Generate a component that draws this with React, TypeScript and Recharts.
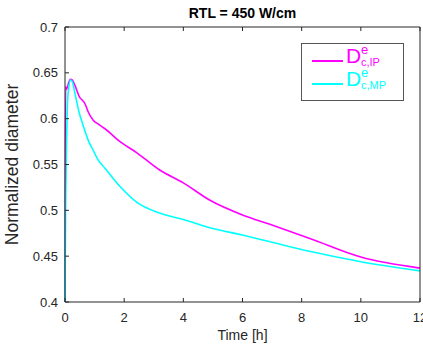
import React from 'react';
import { LineChart, Line, XAxis, YAxis } from 'recharts';

// time axis (hours) and the two normalized diameter curves
const times = [0, 0.02, 0.05, 0.08, 0.12, 0.19, 0.25, 0.34, 0.5, 0.56, 0.68, 0.79, 0.96, 1.13, 1.35, 1.86, 2.42, 3.2, 4, 4.9, 6, 6.9, 8.3, 10, 12];
const dcIP = [0.4, 0.635, 0.632, 0.634, 0.639, 0.643, 0.642, 0.636, 0.623, 0.621, 0.616, 0.607, 0.598, 0.594, 0.589, 0.575, 0.563, 0.544, 0.53, 0.511, 0.495, 0.485, 0.469, 0.449, 0.437];
const dcMP = [0.4, 0.5, 0.57, 0.615, 0.632, 0.642, 0.64, 0.627, 0.604, 0.598, 0.586, 0.576, 0.565, 0.5545, 0.546, 0.526, 0.509, 0.497, 0.49, 0.481, 0.473, 0.466, 0.455, 0.444, 0.434];

const xTicks = [0, 2, 4, 6, 8, 10, 12];
const yTicks = [0.4, 0.45, 0.5, 0.55, 0.6, 0.65, 0.7];

const data = times.map((t, i) => ({ t, ip: dcIP[i], mp: dcMP[i] }));

const AXIS = '#262626';
const FONT = '"Liberation Sans", Arial, sans-serif';
const GAP = 6;

const BottomTick = (p: any) => {
  const { x, y, payload } = p;
  const y0 = y - GAP;
  return (
    <g>
      <line x1={x} x2={x} y1={y0} y2={y0 - 4} stroke={AXIS} />
      <text x={x} y={y0 + 20} textAnchor="middle" fontSize={13} fill={AXIS} fontFamily={FONT}>{payload.value}</text>
    </g>
  );
};

const LeftTick = (p: any) => {
  const { x, y, payload } = p;
  const x0 = x + GAP;
  return (
    <g>
      <line x1={x0} x2={x0 + 4} y1={y} y2={y} stroke={AXIS} />
      <text x={x0 - 7} y={y + 4.5} textAnchor="end" fontSize={13} fill={AXIS} fontFamily={FONT}>{payload.value}</text>
    </g>
  );
};

const TopTick = (p: any) => (
  <line x1={p.x} x2={p.x} y1={p.y} y2={p.y + 4} stroke={AXIS} />
);

const RightTick = (p: any) => (
  <line x1={p.x} x2={p.x - 4} y1={p.y} y2={p.y} stroke={AXIS} />
);

// one legend entry: line sample + D with stacked super/subscript
const LegendRow = ({ color, sub, top }: { color: string; sub: string; top: number }) => (
  <>
    <span style={{ position: 'absolute', left: 10, top: top + 16, width: 31, height: 2, background: color }} />
    <span style={{ position: 'absolute', left: 44, top: top + 1, color, fontSize: 21, fontFamily: FONT, lineHeight: '21px' }}>D</span>
    <span style={{ position: 'absolute', left: 59, top: top, color, fontSize: 13, fontFamily: FONT, lineHeight: '11px' }}>e</span>
    <span style={{ position: 'absolute', left: 59, top: top + 13, color, fontSize: 11, fontFamily: FONT, lineHeight: '10px' }}>{sub}</span>
  </>
);

export default function App() {
  return (
    <div style={{ position: 'absolute', left: 0, top: 0, width: 423, height: 349, background: '#fff' }}>
      <div style={{ position: 'absolute', left: 65, width: 355, top: 5, textAlign: 'center', fontFamily: FONT, fontWeight: 'bold', fontSize: 14, color: '#000' }}>
        RTL = 450 W/cm
      </div>
      <LineChart width={423} height={349} data={data} margin={{ top: 26, right: 2, bottom: 17, left: 0 }}>
        <XAxis dataKey="t" type="number" domain={[0, 12]} ticks={xTicks} stroke={AXIS} tickLine={false}
          tickSize={0} tickMargin={GAP} height={30} tick={<BottomTick />} interval={0}
          label={{ value: 'Time [h]', position: 'bottom', offset: 0, dy: -2, fontSize: 14, fill: AXIS, fontFamily: FONT }} />
        <XAxis xAxisId="top" orientation="top" dataKey="t" type="number" domain={[0, 12]} ticks={xTicks}
          stroke={AXIS} tickLine={false} tickSize={0} tickMargin={0} height={1} tick={<TopTick />} interval={0} />
        <YAxis type="number" domain={[0.4, 0.7]} ticks={yTicks} stroke={AXIS} tickLine={false}
          tickSize={0} tickMargin={GAP} width={65} tick={<LeftTick />} interval={0}
          label={{ value: 'Normalized diameter', angle: -90, position: 'insideLeft', offset: 0, dx: 12, style: { textAnchor: 'middle' }, fontSize: 17.5, fill: AXIS, fontFamily: FONT }} />
        <YAxis yAxisId="right" orientation="right" type="number" domain={[0.4, 0.7]} ticks={yTicks}
          stroke={AXIS} tickLine={false} tickSize={0} tickMargin={0} width={1} tick={<RightTick />} interval={0} />
        <Line type="monotone" dataKey="ip" stroke="#ff00ff" strokeWidth={1.6} dot={false} isAnimationActive={false} />
        <Line type="monotone" dataKey="mp" stroke="#00ffff" strokeWidth={1.6} dot={false} isAnimationActive={false} />
      </LineChart>
      <div style={{ position: 'absolute', left: 301, top: 43, width: 103, height: 58, border: '1px solid #555', background: '#fff', boxSizing: 'border-box' }}>
        <LegendRow color="#ff00ff" sub="c,IP" top={0} />
        <LegendRow color="#00ffff" sub="c,MP" top={23} />
      </div>
    </div>
  );
}
